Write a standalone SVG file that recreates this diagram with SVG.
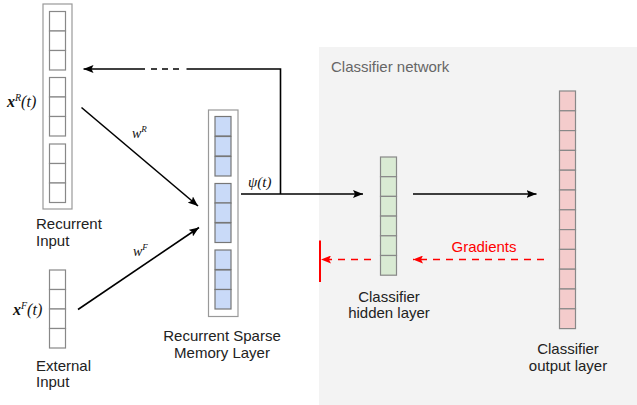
<svg xmlns="http://www.w3.org/2000/svg" width="637" height="405" viewBox="0 0 637 405">
<defs>
<marker id="ab" viewBox="0 0 10 8" refX="10" refY="4" markerWidth="10" markerHeight="8" markerUnits="userSpaceOnUse" orient="auto"><path d="M0,0 L10,4 L0,8 L2,4 z" fill="#000"/></marker>
<marker id="ar" viewBox="0 0 10 8" refX="10" refY="4" markerWidth="10" markerHeight="8" markerUnits="userSpaceOnUse" orient="auto"><path d="M0,0 L10,4 L0,8 L2,4 z" fill="#ff0000"/></marker>
<style>
.t{font-family:"Liberation Sans",Arial,sans-serif;font-size:15px;fill:#222}
.c{text-anchor:middle}
.m{font-family:"Liberation Serif","Times New Roman",serif;font-style:italic;fill:#111}
.outer{fill:#fff;stroke:#999;stroke-width:1.2}
.cw{fill:#fff;stroke:#888;stroke-width:1.2}
.cb{fill:#c9daf8;stroke:#777;stroke-width:1.2}
.cg{fill:#d9ead3;stroke:#888;stroke-width:1.2}
.cr{fill:#f4cccc;stroke:#888;stroke-width:1.2}
.ln{stroke:#000;stroke-width:1.6;fill:none}
.rd{stroke:#ff0000;stroke-width:1.6;fill:none;stroke-dasharray:7,6}
</style>
</defs>
<rect x="319" y="47" width="318" height="358" fill="#f3f3f3"/>
<text class="t" x="331" y="72" style="fill:#666">Classifier network</text>

<g id="recurrent-input">
<rect class="outer" x="43" y="4" width="29" height="205"/>
<rect class="cw" x="49.5" y="11.5" width="16" height="19.5"/>
<rect class="cw" x="49.5" y="31" width="16" height="19.5"/>
<rect class="cw" x="49.5" y="50.5" width="16" height="19.5"/>
<rect class="cw" x="49.5" y="77.5" width="16" height="19.5"/>
<rect class="cw" x="49.5" y="97" width="16" height="19.5"/>
<rect class="cw" x="49.5" y="116.5" width="16" height="19.5"/>
<rect class="cw" x="49.5" y="144" width="16" height="19.5"/>
<rect class="cw" x="49.5" y="163.5" width="16" height="19.5"/>
<rect class="cw" x="49.5" y="183" width="16" height="19.5"/>
<text class="m" x="7" y="107" font-size="16"><tspan font-weight="bold">x</tspan><tspan font-size="10" dy="-6">R</tspan><tspan dy="6">(t)</tspan></text>
<text class="t" x="36" y="229">Recurrent</text>
<text class="t" x="36" y="246">Input</text>
</g>

<g id="external-input">
<rect class="cw" x="49.5" y="270" width="16" height="19.5"/>
<rect class="cw" x="49.5" y="289.5" width="16" height="19.5"/>
<rect class="cw" x="49.5" y="309" width="16" height="19.5"/>
<rect class="cw" x="49.5" y="328.5" width="16" height="19.5"/>
<text class="m" x="13" y="315" font-size="16"><tspan font-weight="bold">x</tspan><tspan font-size="10" dy="-6">F</tspan><tspan dy="6">(t)</tspan></text>
<text class="t" x="36" y="371">External</text>
<text class="t" x="36" y="387">Input</text>
</g>

<g id="memory-layer">
<rect class="outer" x="208.5" y="110" width="29.5" height="206.5"/>
<rect class="cb" x="215" y="116.5" width="16" height="19.5"/>
<rect class="cb" x="215" y="136.5" width="16" height="19.5"/>
<rect class="cb" x="215" y="156.5" width="16" height="19.5"/>
<rect class="cb" x="215" y="183.5" width="16" height="19.5"/>
<rect class="cb" x="215" y="203" width="16" height="19.5"/>
<rect class="cb" x="215" y="223" width="16" height="19.5"/>
<rect class="cb" x="215" y="250" width="16" height="19.5"/>
<rect class="cb" x="215" y="270" width="16" height="19.5"/>
<rect class="cb" x="215" y="289.5" width="16" height="19.5"/>
<text class="t c" x="222" y="341">Recurrent Sparse</text>
<text class="t c" x="222" y="358">Memory Layer</text>
</g>

<g id="hidden-layer">
<rect class="cg" x="380.5" y="157" width="16" height="19.7"/>
<rect class="cg" x="380.5" y="176.7" width="16" height="19.7"/>
<rect class="cg" x="380.5" y="196.4" width="16" height="19.7"/>
<rect class="cg" x="380.5" y="216.1" width="16" height="19.7"/>
<rect class="cg" x="380.5" y="235.8" width="16" height="19.7"/>
<rect class="cg" x="380.5" y="255.5" width="16" height="19.7"/>
<text class="t c" x="389" y="301.5">Classifier</text>
<text class="t c" x="389" y="318">hidden layer</text>
</g>

<g id="output-layer">
<rect class="cr" x="559.5" y="91" width="16" height="19.8"/>
<rect class="cr" x="559.5" y="110.8" width="16" height="19.8"/>
<rect class="cr" x="559.5" y="130.6" width="16" height="19.8"/>
<rect class="cr" x="559.5" y="150.4" width="16" height="19.8"/>
<rect class="cr" x="559.5" y="170.2" width="16" height="19.8"/>
<rect class="cr" x="559.5" y="190" width="16" height="19.8"/>
<rect class="cr" x="559.5" y="209.8" width="16" height="19.8"/>
<rect class="cr" x="559.5" y="229.6" width="16" height="19.8"/>
<rect class="cr" x="559.5" y="249.4" width="16" height="19.8"/>
<rect class="cr" x="559.5" y="269.2" width="16" height="19.8"/>
<rect class="cr" x="559.5" y="289" width="16" height="19.8"/>
<rect class="cr" x="559.5" y="308.8" width="16" height="19.8"/>
<text class="t c" x="568" y="353.5">Classifier</text>
<text class="t c" x="568" y="370.5">output layer</text>
</g>

<g id="connectors">
<line class="ln" x1="81.5" y1="107.5" x2="198" y2="206" marker-end="url(#ab)"/>
<line class="ln" x1="78" y1="309.5" x2="199" y2="227.5" marker-end="url(#ab)"/>
<text class="m" x="132" y="138" font-size="14">w<tspan font-size="9" dy="-6">R</tspan></text>
<text class="m" x="133" y="256" font-size="14">w<tspan font-size="9" dy="-6">F</tspan></text>
<line class="ln" x1="241" y1="194" x2="363" y2="194" marker-end="url(#ab)"/>
<text class="m" x="248" y="187" font-size="15">ψ(t)</text>
<polyline class="ln" points="280.5,194 280.5,69 186.5,69"/>
<line class="ln" x1="179" y1="69" x2="150" y2="69" stroke-dasharray="6,5"/>
<line class="ln" x1="145" y1="69" x2="83.5" y2="69" marker-end="url(#ab)"/>
<line class="ln" x1="413" y1="194" x2="536.5" y2="194" marker-end="url(#ab)"/>
<line class="rd" x1="544" y1="259.5" x2="413" y2="259.5" marker-end="url(#ar)"/>
<line class="rd" x1="371" y1="259.5" x2="321" y2="259.5" marker-end="url(#ar)"/>
<line x1="320" y1="240.5" x2="320" y2="282" stroke="#ff0000" stroke-width="2"/>
<text class="t c" x="484" y="251.5" style="fill:#ff0000">Gradients</text>
</g>
</svg>
